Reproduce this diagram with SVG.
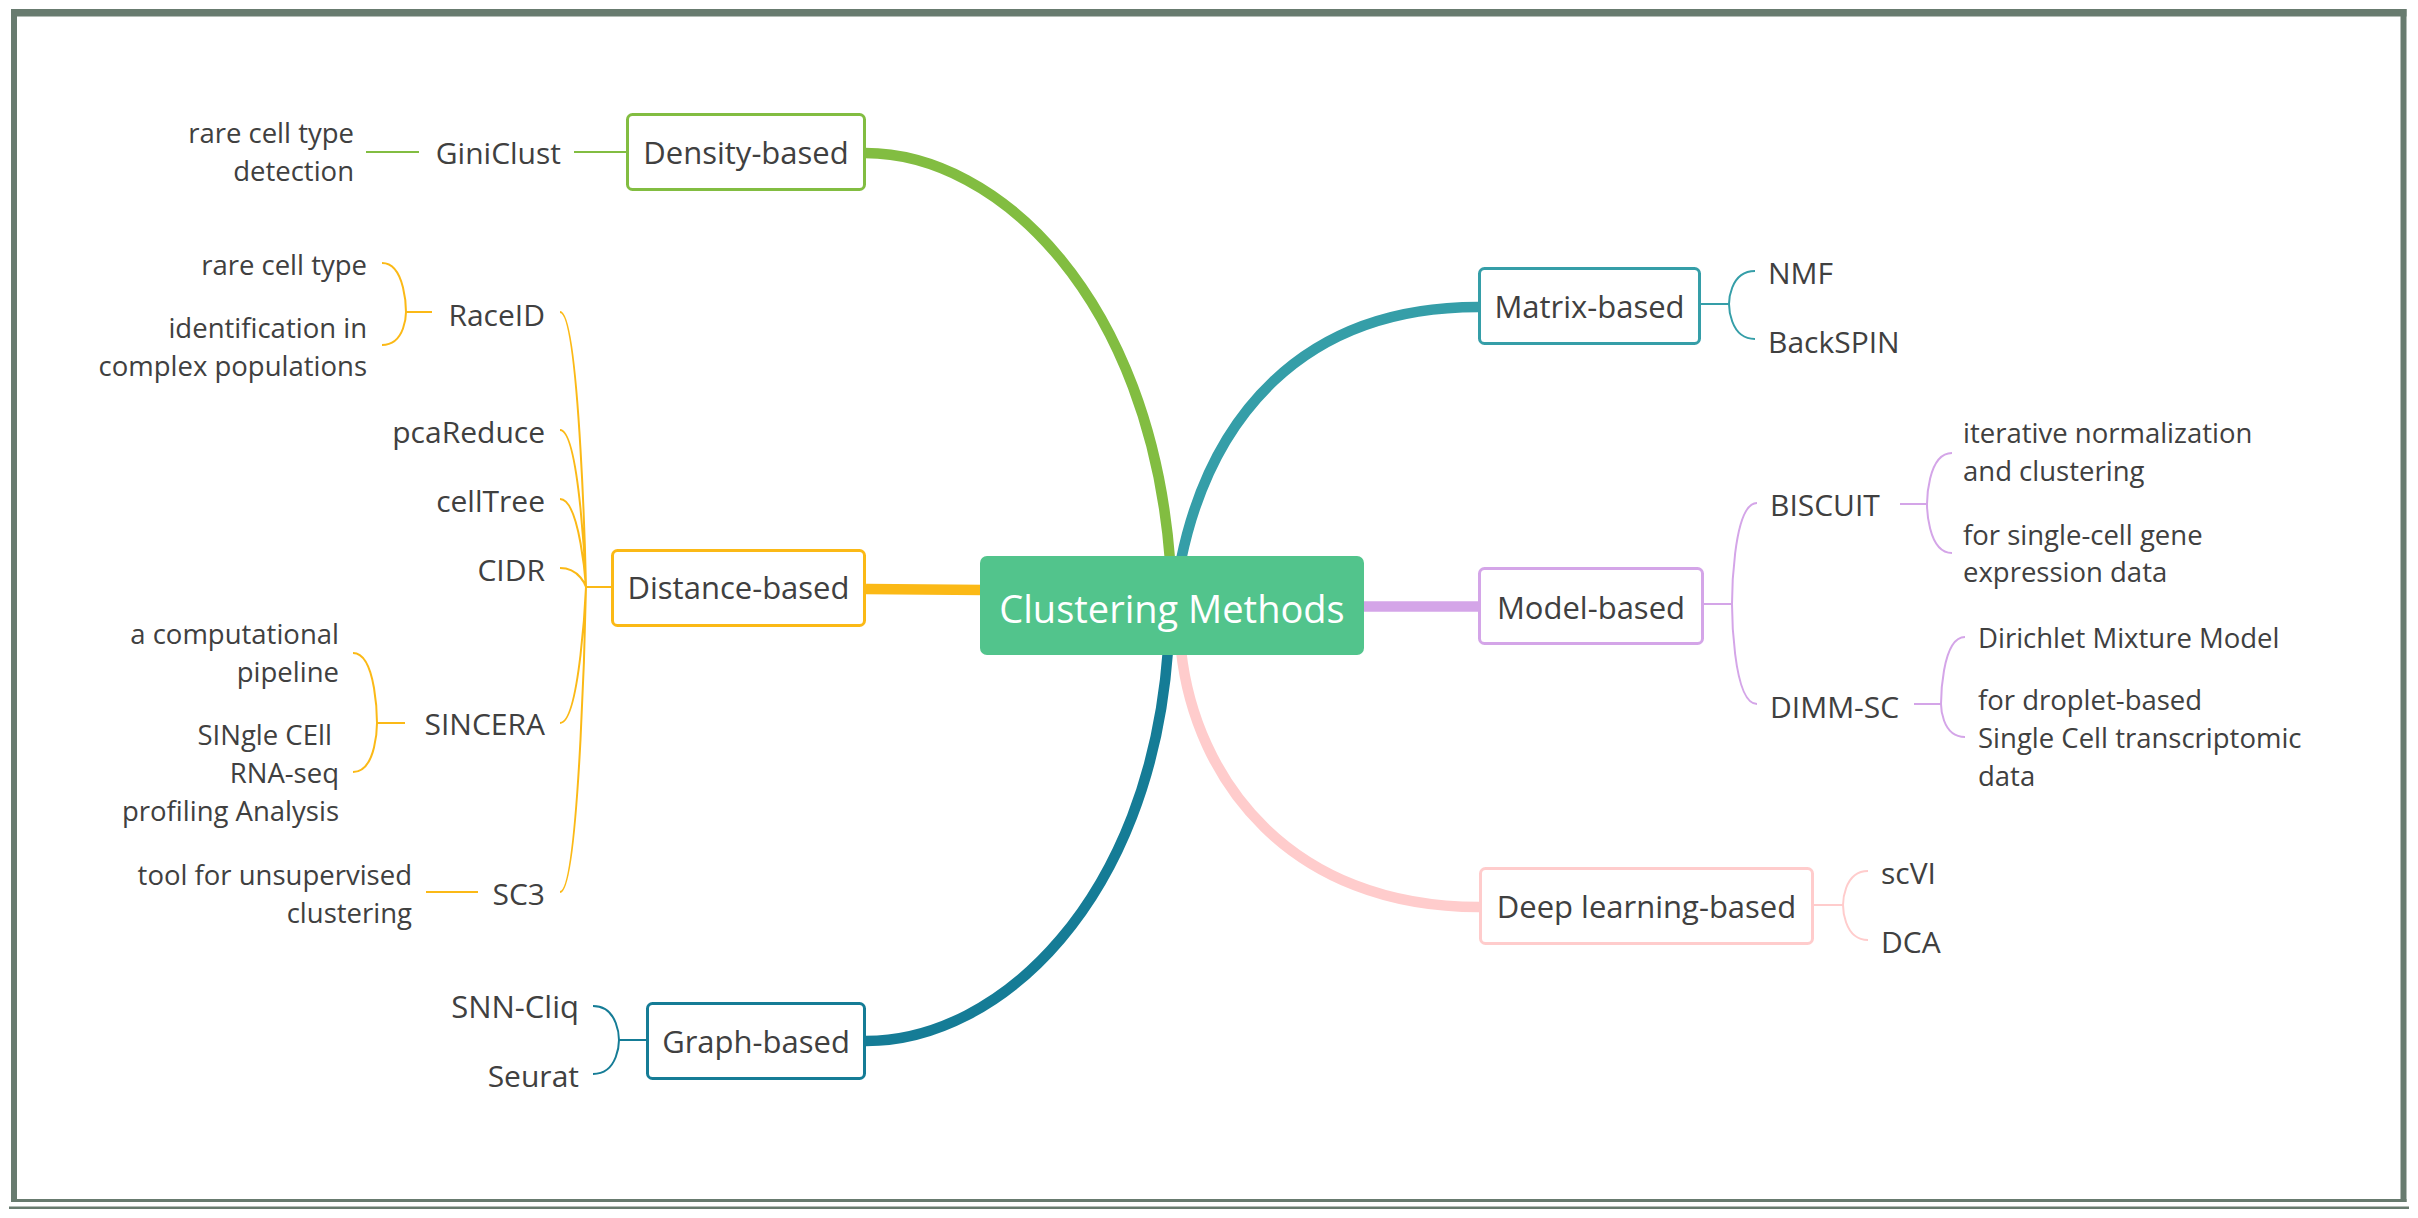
<svg xmlns="http://www.w3.org/2000/svg" width="2418" height="1218" viewBox="0 0 2418 1218">
<style>
text{font-family:"Open Sans","Noto Sans","Liberation Sans",sans-serif;fill:#404040}
.c{font-size:38px;text-anchor:middle;fill:#ffffff}
.b{font-size:31px;text-anchor:middle}
.s{font-size:30px}
.l{font-size:27.5px}
.e{text-anchor:end}
.box{fill:#ffffff;stroke-width:3}
.thin{fill:none;stroke-width:2}
.thk{fill:none;stroke-width:10.5}
.fr{fill:#687b6f}
.g1{stroke:#82bd41}.g2{stroke:#fbb916}.g3{stroke:#157c96}.g4{stroke:#359ea8}.g5{stroke:#d4a5e8}.g6{stroke:#ffcccc}
</style>
<rect width="2418" height="1218" fill="#ffffff"/>
<g id="frame">
<rect class="fr" x="11" y="9" width="2395.5" height="7.5"/>
<rect class="fr" x="11" y="9" width="6" height="1193"/>
<rect class="fr" x="2400.5" y="9" width="6" height="1193"/>
<rect class="fr" x="11" y="1199" width="2395.5" height="3"/>
<rect class="fr" x="9" y="1206.5" width="2400" height="2.5"/>
</g>
<g id="connectors">
<path class="thk g1" d="M865,153 C1000,153 1150,300 1170,560"/>
<path class="thk g4" d="M1181,560 C1210,420 1300,307 1478,307"/>
<path class="thk g2" d="M866,589 L984,590"/>
<path class="thk g5" d="M1360,606.5 L1478,606.5"/>
<path class="thk g3" d="M866,1041 C1000,1041 1150,900 1168,650"/>
<path class="thk g6" d="M1181,650 C1195,780 1290,907 1479,907"/>
<path class="thin g1" d="M366,152 H419 M574,152 H626"/>
<path class="thin g2" d="M586,587 H611 M586,587 C586,587 580,312 560,312 M586,587 C586,587 580,430 560,430 M586,587 C586,587 580,499 560,499 M586,587 C586,587 580,568 560,568 M586,587 C586,587 580,723 560,723 M586,587 C586,587 580,892 560,892"/>
<path class="thin g2" d="M432,312 H406 M406,312 C406,312 406,263 382,263 M406,312 C406,312 406,345 382,345"/>
<path class="thin g2" d="M405,723 H377 M377,723 C377,723 377,653 353,653 M377,723 C377,723 377,772 353,772"/>
<path class="thin g2" d="M426,892 H478"/>
<path class="thin g3" d="M646,1040 H619 M619,1040 C619,1040 619,1006 593,1006 M619,1040 C619,1040 619,1074 593,1074"/>
<path class="thin g4" d="M1701,304 H1729 M1729,304 C1729,304 1729,271 1755,271 M1729,304 C1729,304 1729,339 1755,339"/>
<path class="thin g5" d="M1704,604 H1732 M1732,604 C1732,604 1732,503 1757,503 M1732,604 C1732,604 1732,704 1757,704"/>
<path class="thin g5" d="M1900,504 H1927 M1927,504 C1927,504 1927,453 1952,453 M1927,504 C1927,504 1927,553 1952,553"/>
<path class="thin g5" d="M1914,704 H1941 M1941,704 C1941,704 1941,637 1965,637 M1941,704 C1941,704 1941,737 1965,737"/>
<path class="thin g6" d="M1814,905 H1843 M1843,905 C1843,905 1843,871 1868,871 M1843,905 C1843,905 1843,940 1868,940"/>
</g>
<g id="center">
<rect x="980" y="556" width="384" height="99" rx="7" fill="#52c48c"/>
<text class="c" x="1172" y="623">Clustering Methods</text>
</g>
<g id="density">
<rect class="box g1" x="627.5" y="114.5" width="237" height="75" rx="5"/>
<text class="b" x="746" y="164">Density-based</text>
</g>
<g id="giniclust"><text class="s e" x="561" y="164">GiniClust</text></g>
<g id="gini-leaf"><text class="l e" x="354" y="143">rare cell type<tspan x="354" dy="38">detection</tspan></text></g>
<g id="distance">
<rect class="box g2" x="612.5" y="550.5" width="252" height="75" rx="5"/>
<text class="b" x="738.5" y="599">Distance-based</text>
</g>
<g id="raceid"><text class="s e" x="545" y="326">RaceID</text></g>
<g id="raceid-leaf1"><text class="l e" x="367" y="275">rare cell type</text></g>
<g id="raceid-leaf2"><text class="l e" x="367" y="338">identification in<tspan x="367" dy="38">complex populations</tspan></text></g>
<g id="pcareduce"><text class="s e" x="545" y="443">pcaReduce</text></g>
<g id="celltree"><text class="s e" x="545" y="512">cellTree</text></g>
<g id="cidr"><text class="s e" x="545" y="581">CIDR</text></g>
<g id="sincera"><text class="s e" x="545" y="735">SINCERA</text></g>
<g id="sincera-leaf1"><text class="l e" x="339" y="644">a computational<tspan x="339" dy="38">pipeline</tspan></text></g>
<g id="sincera-leaf2"><text class="l e" x="339" y="745" xml:space="preserve">SINgle CEll <tspan x="339" dy="38">RNA-seq</tspan><tspan x="339" dy="38">profiling Analysis</tspan></text></g>
<g id="sc3"><text class="s e" x="545" y="905">SC3</text></g>
<g id="sc3-leaf"><text class="l e" x="412" y="885">tool for unsupervised<tspan x="412" dy="38">clustering</tspan></text></g>
<g id="graph">
<rect class="box g3" x="647.5" y="1003.5" width="217" height="75" rx="5"/>
<text class="b" x="756" y="1053">Graph-based</text>
</g>
<g id="snncliq"><text class="s e" x="579" y="1018" style="font-size:31px">SNN-Cliq</text></g>
<g id="seurat"><text class="s e" x="579" y="1087">Seurat</text></g>
<g id="matrix">
<rect class="box g4" x="1479.5" y="268.5" width="220" height="75" rx="5"/>
<text class="b" x="1589.5" y="318">Matrix-based</text>
</g>
<g id="nmf"><text class="s" x="1768" y="284">NMF</text></g>
<g id="backspin"><text class="s" x="1768" y="353">BackSPIN</text></g>
<g id="model">
<rect class="box g5" x="1479.5" y="568.5" width="223" height="75" rx="5"/>
<text class="b" x="1591" y="619">Model-based</text>
</g>
<g id="biscuit"><text class="s" x="1770" y="516">BISCUIT</text></g>
<g id="biscuit-leaf1"><text class="l" x="1963" y="443">iterative normalization<tspan x="1963" dy="38">and clustering</tspan></text></g>
<g id="biscuit-leaf2"><text class="l" x="1963" y="545">for single-cell gene<tspan x="1963" dy="37">expression data</tspan></text></g>
<g id="dimmsc"><text class="s" x="1770" y="718">DIMM-SC</text></g>
<g id="dimmsc-leaf1"><text class="l" x="1978" y="648">Dirichlet Mixture Model</text></g>
<g id="dimmsc-leaf2"><text class="l" x="1978" y="710">for droplet-based<tspan x="1978" dy="38">Single Cell transcriptomic</tspan><tspan x="1978" dy="38">data</tspan></text></g>
<g id="deep">
<rect class="box g6" x="1480.5" y="868.5" width="332" height="75" rx="5"/>
<text class="b" x="1646.5" y="918">Deep learning-based</text>
</g>
<g id="scvi"><text class="s" x="1881" y="884">scVI</text></g>
<g id="dca"><text class="s" x="1881" y="953">DCA</text></g>
</svg>
